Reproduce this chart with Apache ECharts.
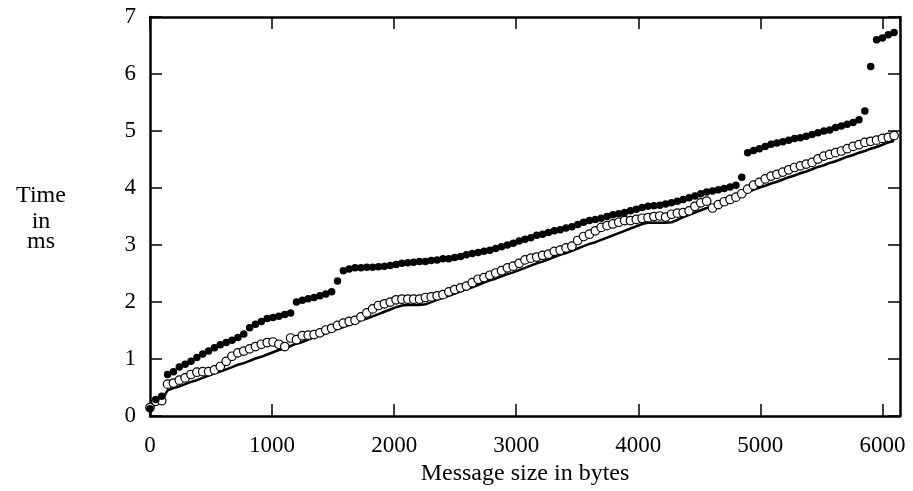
<!DOCTYPE html>
<html>
<head>
<meta charset="utf-8">
<script src="https://cdn.jsdelivr.net/npm/echarts@6/dist/echarts.min.js"></script>
<style>
  html, body { margin: 0; padding: 0; background: #fff; }
  #chart { width: 913px; height: 491px; }
</style>
</head>
<body>
<div id="chart"></div>
<script>
// message sizes (bytes)
const sizes = [
  0, 48, 96, 144, 192, 240, 288, 336, 384, 432,
  480, 528, 576, 624, 672, 720, 768, 816, 864, 912,
  960, 1008, 1056, 1104, 1152, 1200, 1248, 1296, 1344, 1392,
  1440, 1488, 1536, 1584, 1632, 1680, 1728, 1776, 1824, 1872,
  1920, 1968, 2016, 2064, 2112, 2160, 2208, 2256, 2304, 2352,
  2400, 2448, 2496, 2544, 2592, 2640, 2688, 2736, 2784, 2832,
  2880, 2928, 2976, 3024, 3072, 3120, 3168, 3216, 3264, 3312,
  3360, 3408, 3456, 3504, 3552, 3600, 3648, 3696, 3744, 3792,
  3840, 3888, 3936, 3984, 4032, 4080, 4128, 4176, 4224, 4272,
  4320, 4368, 4416, 4464, 4512, 4560, 4608, 4656, 4704, 4752,
  4800, 4848, 4896, 4944, 4992, 5040, 5088, 5136, 5184, 5232,
  5280, 5328, 5376, 5424, 5472, 5520, 5568, 5616, 5664, 5712,
  5760, 5808, 5856, 5904, 5952, 6000, 6048, 6096
];

// filled dots (ms)
const filledTimes = [
  0.13, 0.29, 0.35, 0.73, 0.78, 0.86, 0.91, 0.96, 1.03, 1.09,
  1.14, 1.20, 1.25, 1.29, 1.33, 1.38, 1.44, 1.55, 1.61, 1.66,
  1.71, 1.73, 1.75, 1.78, 1.81, 2.00, 2.03, 2.06, 2.08, 2.11,
  2.14, 2.18, 2.37, 2.55, 2.58, 2.60, 2.60, 2.61, 2.61, 2.62,
  2.63, 2.64, 2.66, 2.68, 2.69, 2.70, 2.71, 2.71, 2.73, 2.74,
  2.76, 2.76, 2.78, 2.80, 2.83, 2.85, 2.87, 2.89, 2.91, 2.94,
  2.97, 3.00, 3.03, 3.07, 3.10, 3.13, 3.17, 3.19, 3.22, 3.25,
  3.27, 3.30, 3.32, 3.36, 3.40, 3.43, 3.45, 3.47, 3.50, 3.53,
  3.55, 3.57, 3.60, 3.63, 3.66, 3.68, 3.69, 3.70, 3.72, 3.74,
  3.77, 3.80, 3.83, 3.86, 3.90, 3.93, 3.95, 3.97, 3.99, 4.02,
  4.05, 4.19, 4.62, 4.66, 4.69, 4.73, 4.77, 4.79, 4.81, 4.84,
  4.87, 4.88, 4.91, 4.94, 4.97, 5.00, 5.02, 5.06, 5.09, 5.12,
  5.15, 5.20, 5.35, 6.13, 6.60, 6.63, 6.69, 6.73
];

// open circles (ms)
const openTimes = [
  0.15, 0.26, 0.27, 0.56, 0.58, 0.63, 0.67, 0.73, 0.77, 0.78,
  0.78, 0.81, 0.87, 0.96, 1.05, 1.11, 1.14, 1.18, 1.22, 1.26,
  1.29, 1.30, 1.26, 1.22, 1.37, 1.34, 1.41, 1.42, 1.43, 1.46,
  1.51, 1.54, 1.59, 1.63, 1.66, 1.68, 1.74, 1.81, 1.88, 1.94,
  1.97, 2.00, 2.04, 2.05, 2.05, 2.05, 2.05, 2.08, 2.09, 2.11,
  2.13, 2.18, 2.22, 2.25, 2.28, 2.34, 2.40, 2.43, 2.47, 2.51,
  2.55, 2.60, 2.63, 2.68, 2.74, 2.77, 2.79, 2.82, 2.84, 2.89,
  2.91, 2.95, 2.98, 3.08, 3.15, 3.19, 3.25, 3.31, 3.34, 3.37,
  3.40, 3.43, 3.43, 3.45, 3.47, 3.48, 3.50, 3.51, 3.49, 3.54,
  3.56, 3.57, 3.60, 3.68, 3.74, 3.77, 3.65, 3.71, 3.76, 3.80,
  3.84, 3.90, 3.98, 4.05, 4.10, 4.16, 4.21, 4.24, 4.28, 4.32,
  4.36, 4.39, 4.42, 4.45, 4.51, 4.56, 4.59, 4.62, 4.65, 4.69,
  4.73, 4.76, 4.80, 4.82, 4.84, 4.87, 4.89, 4.92
];

// solid line (ms)
const lineTimes = [
  0.12, 0.22, 0.28, 0.45, 0.49, 0.52, 0.56, 0.60, 0.63, 0.67,
  0.71, 0.75, 0.78, 0.82, 0.86, 0.90, 0.93, 0.97, 1.01, 1.04,
  1.08, 1.12, 1.16, 1.19, 1.23, 1.27, 1.30, 1.34, 1.38, 1.42,
  1.45, 1.49, 1.53, 1.56, 1.60, 1.64, 1.68, 1.71, 1.75, 1.79,
  1.83, 1.87, 1.91, 1.94, 1.95, 1.95, 1.95, 1.96, 2.00, 2.04,
  2.08, 2.11, 2.15, 2.19, 2.23, 2.26, 2.30, 2.34, 2.38, 2.41,
  2.45, 2.49, 2.52, 2.56, 2.60, 2.64, 2.68, 2.71, 2.75, 2.79,
  2.83, 2.86, 2.90, 2.94, 2.98, 3.02, 3.05, 3.09, 3.13, 3.17,
  3.21, 3.25, 3.29, 3.33, 3.37, 3.39, 3.39, 3.39, 3.39, 3.40,
  3.44, 3.49, 3.53, 3.57, 3.61, 3.65, 3.67, 3.72, 3.77, 3.81,
  3.85, 3.89, 3.93, 3.97, 4.01, 4.04, 4.08, 4.11, 4.15, 4.19,
  4.22, 4.26, 4.29, 4.33, 4.37, 4.40, 4.44, 4.47, 4.51, 4.55,
  4.58, 4.62, 4.65, 4.69, 4.72, 4.76, 4.80, 4.83
];

const yTitle = ['Time', 'in', 'ms'];

const font = 'Liberation Serif';
const pairs = (vals) => sizes.map((s, i) => [s, vals[i]]);

const chart = echarts.init(document.getElementById('chart'));

// box frame: all four sides, ticks pointing in
const frameAxis = {
  axisLine: { show: true, onZero: false, lineStyle: { color: '#000', width: 2.5 } },
  axisTick: { show: true, inside: true, length: 12, lineStyle: { color: '#000', width: 1.5 } },
  splitLine: { show: false },
};

chart.setOption({
  animation: false,
  backgroundColor: '#fff',
  grid: { left: 150, right: 13, top: 17, bottom: 73 },
  xAxis: [
    {
      type: 'value', min: 0, max: 6144, interval: 1000,
      ...frameAxis,
      name: 'Message size in bytes',
      nameLocation: 'middle',
      nameGap: 42,
      nameTextStyle: { fontFamily: font, fontSize: 24, color: '#000' },
      axisLabel: {
        fontFamily: font, fontSize: 23, color: '#000', margin: 18,
        showMaxLabel: false,
        formatter: (v) => (v % 1000 === 0 ? String(v) : ''),
      },
    },
    {
      type: 'value', min: 0, max: 6144, interval: 1000, position: 'top',
      ...frameAxis,
      axisLabel: { show: false },
    },
  ],
  yAxis: [
    {
      type: 'value', min: 0, max: 7, interval: 1,
      ...frameAxis,
      axisLabel: { fontFamily: font, fontSize: 23, color: '#000', margin: 14 },
    },
    {
      type: 'value', min: 0, max: 7, interval: 1, position: 'right',
      ...frameAxis,
      axisLabel: { show: false },
    },
  ],
  graphic: yTitle.map((t, i) => ({
    type: 'text',
    x: 41,
    y: [196, 222, 242][i],
    style: {
      text: t, fontFamily: font, fontSize: 24, fill: '#000',
      textAlign: 'center', textVerticalAlign: 'middle',
    },
  })),
  series: [
    {
      name: 'line',
      type: 'line',
      data: pairs(lineTimes),
      showSymbol: false,
      lineStyle: { color: '#000', width: 2.5 },
      z: 2,
    },
    {
      name: 'open',
      type: 'scatter',
      data: pairs(openTimes),
      symbol: 'circle',
      symbolSize: 8.5,
      itemStyle: { color: '#fff', borderColor: '#000', borderWidth: 1.2, opacity: 1 },
      z: 3,
    },
    {
      name: 'filled',
      type: 'scatter',
      data: pairs(filledTimes),
      symbol: 'circle',
      symbolSize: 7.5,
      itemStyle: { color: '#000', opacity: 1 },
      z: 4,
    },
  ],
});
</script>
</body>
</html>
